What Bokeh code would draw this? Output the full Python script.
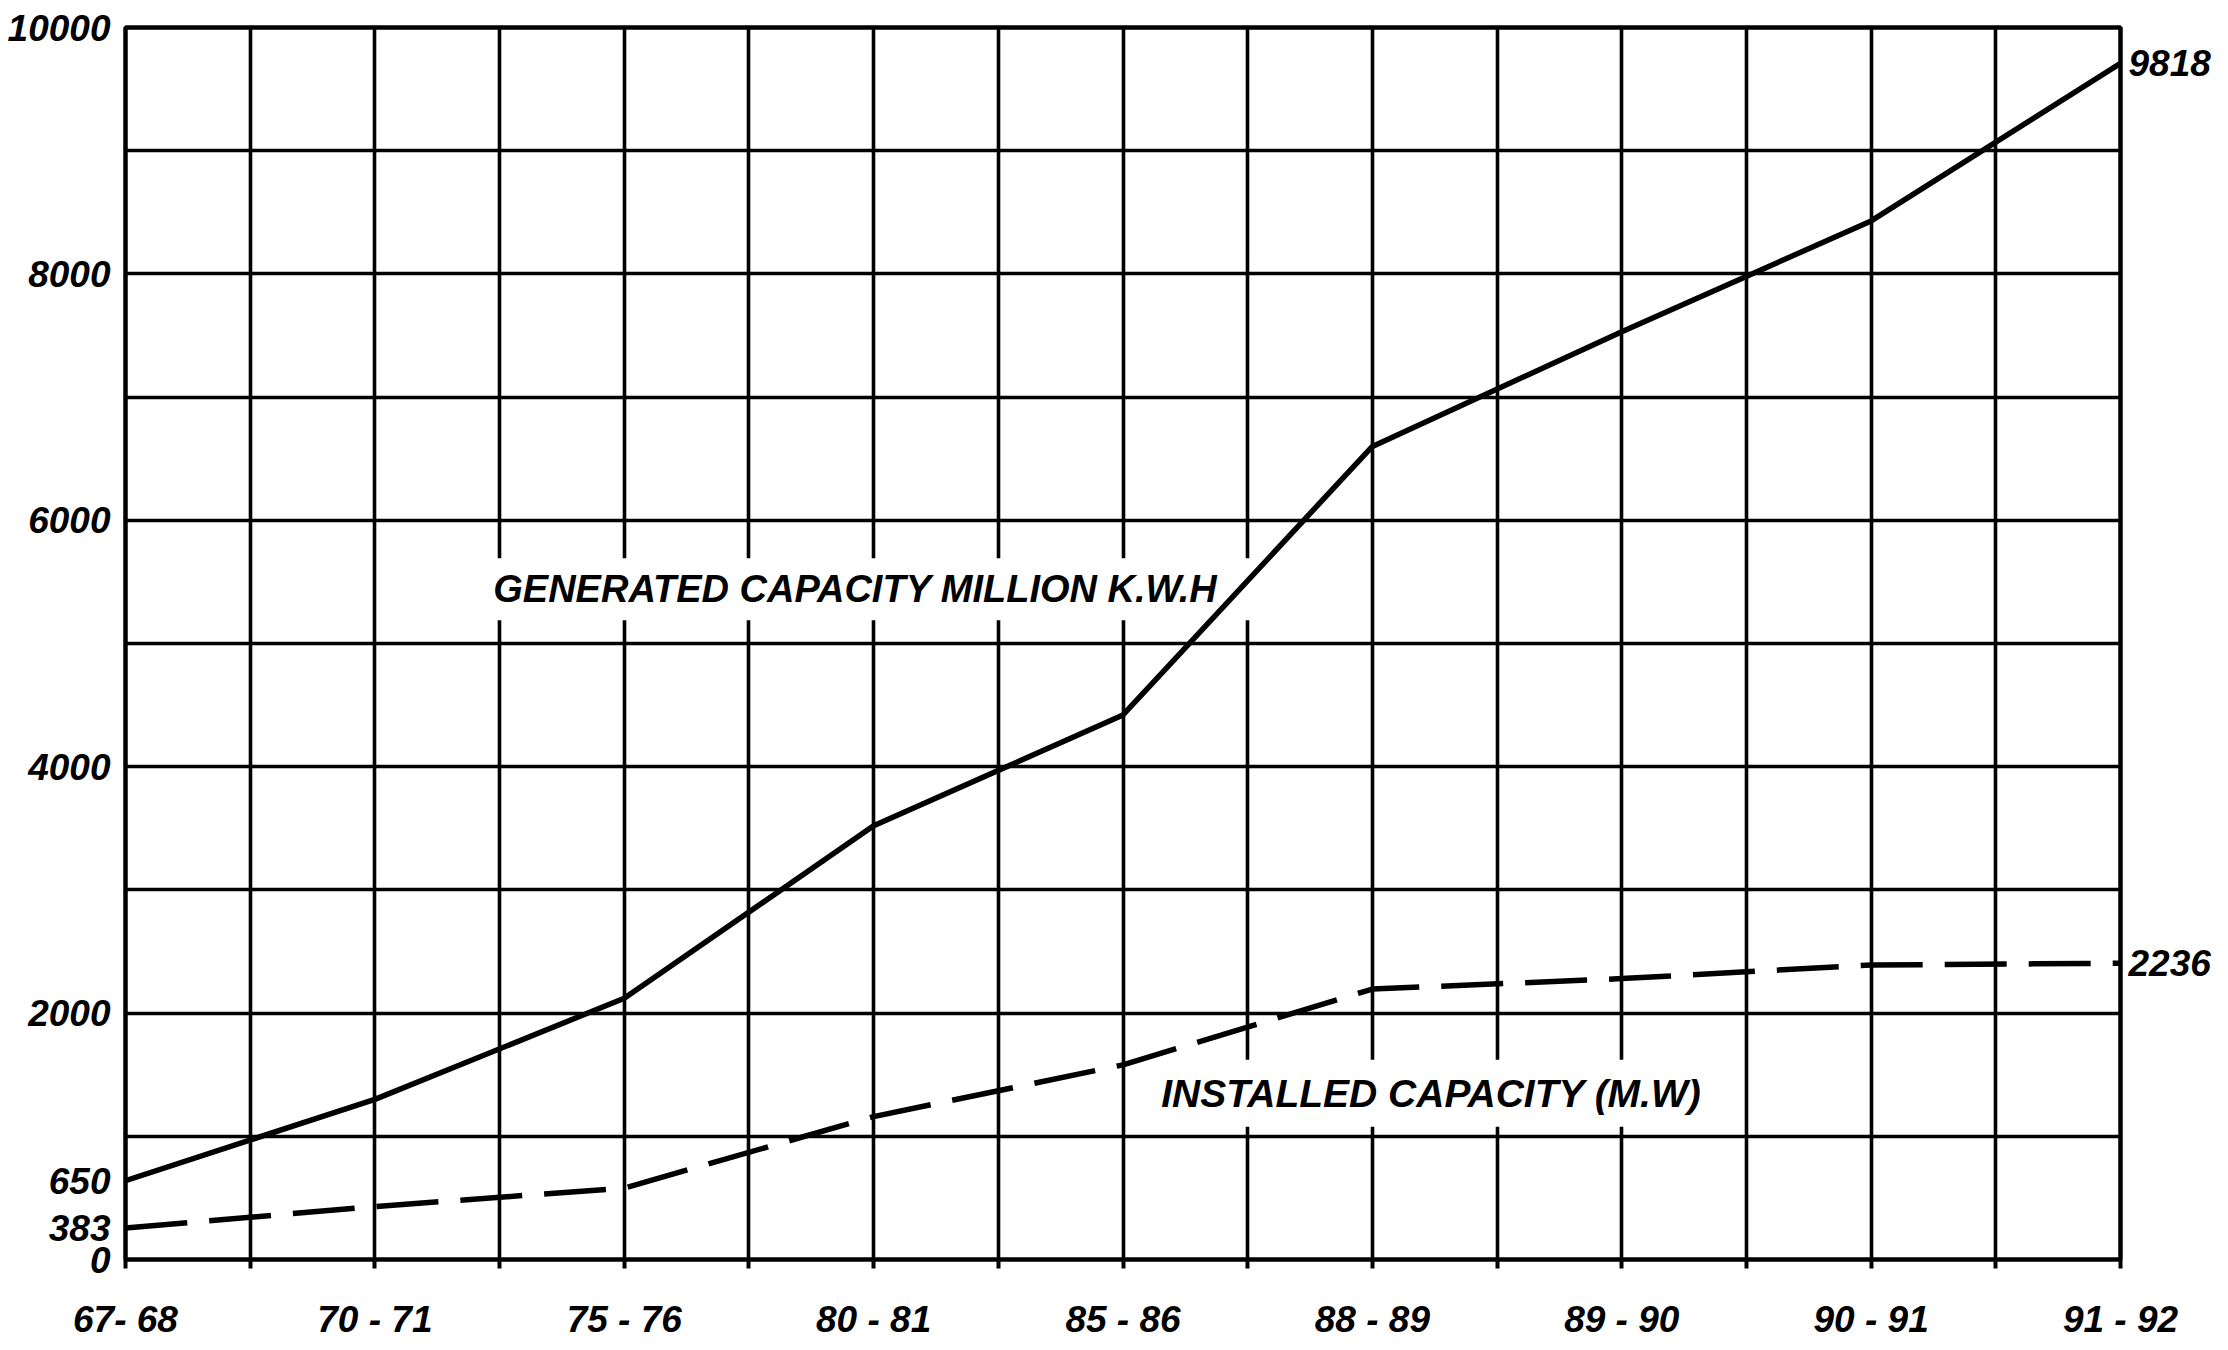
from bokeh.plotting import figure
from bokeh.models import FixedTicker, Label, LinearAxis
from bokeh.embed import file_html
from bokeh.resources import INLINE

# ---- data ----
categories = ["67- 68", "70 - 71", "75 - 76", "80 - 81", "85 - 86",
              "88 - 89", "89 - 90", "90 - 91", "91 - 92"]
generated = [640, 1300, 2120, 3520, 4420, 6600, 7530, 8430, 9710]   # million kWh
installed = [255, 430, 580, 1160, 1580, 2195, 2280, 2390, 2405]      # MW
y_label_ticks = [2000, 4000, 6000, 8000, 10000]
start_labels = ["650", "383", "0"]
end_labels = ["9818", "2236"]
series_titles = ["GENERATED  CAPACITY  MILLION  K.W.H", "INSTALLED  CAPACITY  (M.W)"]

FONT = "Liberation Sans"
x = list(range(len(categories)))
n = len(categories) - 1

p = figure(width=2220, height=1342, output_backend="svg", toolbar_location=None,
           x_range=(0, n), y_range=(0, 10000),
           min_border_left=125, min_border_right=100, min_border_top=27, min_border_bottom=81)
p.background_fill_color = "white"
p.border_fill_color = "white"
p.outline_line_color = "black"
p.outline_line_width = 4.5

# grid: every half category and every 1000
half_ticks = [i * 0.5 for i in range(2 * n + 1)]
p.xgrid.ticker = FixedTicker(ticks=half_ticks)
p.ygrid.ticker = FixedTicker(ticks=list(range(0, 10001, 1000)))
for g in (p.xgrid, p.ygrid):
    g.grid_line_color = "black"
    g.grid_line_width = 3.6
    g.grid_line_alpha = 1.0

def style_axis(ax, size):
    ax.axis_line_color = None
    ax.minor_tick_line_color = None
    ax.major_label_text_font = FONT
    ax.major_label_text_font_size = size
    ax.major_label_text_font_style = "bold italic"
    ax.major_label_text_color = "black"

# x axis
xa = p.xaxis[0]
xa.ticker = FixedTicker(ticks=half_ticks)
overrides = {}
for t in half_ticks:
    overrides[t] = categories[int(t)] if float(t).is_integer() else ""
xa.major_label_overrides = overrides
style_axis(xa, "37px")
xa.major_tick_line_color = "black"
xa.major_tick_line_width = 4
xa.major_tick_in = 0
xa.major_tick_out = 9
xa.major_label_standoff = 30

# left y axis: scale labels plus the starting values
ya = p.yaxis[0]
left_ticks = [0, installed[0], generated[0]] + y_label_ticks
ya.ticker = FixedTicker(ticks=left_ticks)
ya.major_label_overrides = {0: start_labels[2], installed[0]: start_labels[1],
                            generated[0]: start_labels[0]}
style_axis(ya, "37px")
ya.major_tick_line_color = None
ya.major_tick_in = 0
ya.major_tick_out = 0
ya.major_label_standoff = 15

# right axis: final values
ra = LinearAxis(ticker=FixedTicker(ticks=[installed[-1], generated[-1]]))
ra.major_label_overrides = {installed[-1]: end_labels[1], generated[-1]: end_labels[0]}
style_axis(ra, "37px")
ra.major_tick_line_color = None
ra.major_tick_in = 0
ra.major_tick_out = 0
ra.major_label_standoff = 8
p.add_layout(ra, "right")

# series
p.line(x, generated, line_color="black", line_width=5.5)
p.line(x, installed, line_color="black", line_width=5.5, line_dash="62 22")

def lab(**kw):
    base = dict(text_font=FONT, text_font_style="bold italic", text_color="black",
                level="underlay")
    base.update(kw)
    p.add_layout(Label(**base))

# series titles with white background that interrupts the grid
lab(x=2.99, y=5440, text=series_titles[0], text_align="center", text_baseline="middle",
    text_font_size="38px", background_fill_color="white", padding=10)
lab(x=5.28, y=1350, text=series_titles[1], text_align="center", text_baseline="middle",
    text_font_size="39px", background_fill_color="white", padding=12)

open("out.html", "w").write(file_html(p, INLINE))
